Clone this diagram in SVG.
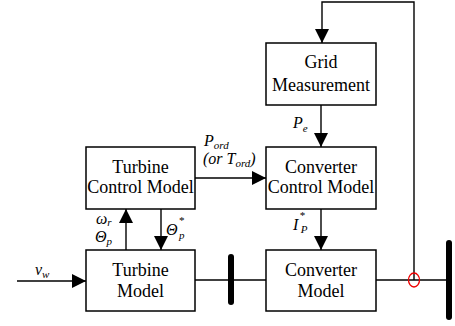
<svg xmlns="http://www.w3.org/2000/svg" width="455" height="326" viewBox="0 0 455 326">
<defs>
<marker id="arr" viewBox="0 0 14 14" refX="14" refY="7" markerWidth="14" markerHeight="14" markerUnits="userSpaceOnUse" orient="auto">
<path d="M0,0 L14,7 L0,14 Z" fill="#000"/>
</marker>
<style>
text{font-family:'Liberation Serif','DejaVu Serif',serif}
.box{fill:#fff;stroke:#000;stroke-width:1.5}
.t{font-size:18px;fill:#000;text-anchor:middle}
.l{font-style:italic;font-size:16px;fill:#000}
.s{font-size:11px}
.c{fill:none;stroke:#000;stroke-width:1.4}
.a{marker-end:url(#arr)}
.bus{stroke:#000;stroke-width:6;stroke-linecap:round}
</style>
</defs>
<g id="connectors">
<path class="c a" d="M414,280 L414,2 L322,2 L322,43"/>
<path class="c a" d="M321,105 L321,147"/>
<path class="c a" d="M321,209 L321,250"/>
<path class="c a" d="M195,178 L266,178"/>
<path class="c a" d="M126,250 L126,209"/>
<path class="c a" d="M161,209 L161,250"/>
<path class="c a" d="M17,281 L86,281"/>
<path class="c" d="M195,280 L266,280"/>
<path class="c" d="M376,280 L449,280"/>
</g>
<g id="bus1"><line class="bus" x1="231" y1="257" x2="231" y2="302"/></g>
<g id="bus2"><line class="bus" x1="449" y1="243" x2="449" y2="317"/></g>
<g id="sensor"><ellipse cx="414" cy="280" rx="5.5" ry="7" fill="none" stroke="#e00" stroke-width="1.3"/></g>
<g id="grid-measurement">
<rect class="box" x="266" y="43" width="110" height="62"/>
<text class="t" x="321" y="68" font-family="Liberation Serif, serif">Grid</text>
<text class="t" x="321" y="91" font-family="Liberation Serif, serif">Measurement</text>
</g>
<g id="turbine-control">
<rect class="box" x="86" y="147" width="109" height="62"/>
<text class="t" x="140.5" y="173">Turbine</text>
<text class="t" x="140.5" y="193">Control Model</text>
</g>
<g id="converter-control">
<rect class="box" x="266" y="147" width="110" height="62"/>
<text class="t" x="321" y="173">Converter</text>
<text class="t" x="321" y="193">Control Model</text>
</g>
<g id="turbine-model">
<rect class="box" x="86" y="250" width="109" height="61"/>
<text class="t" x="140.5" y="276">Turbine</text>
<text class="t" x="140.5" y="297">Model</text>
</g>
<g id="converter-model">
<rect class="box" x="266" y="250" width="110" height="61"/>
<text class="t" x="321" y="276">Converter</text>
<text class="t" x="321" y="297">Model</text>
</g>
<g id="labels">
<text class="l" x="204" y="146">P<tspan class="s" dy="3">ord</tspan></text>
<text class="l" x="203" y="164">(or T<tspan class="s" dy="3">ord</tspan><tspan dy="-3">)</tspan></text>
<text class="l" x="293" y="128">P<tspan class="s" dy="4">e</tspan></text>
<text class="l" x="293" y="230">I<tspan class="s" dx="1" dy="-11">*</tspan><tspan class="s" dx="-4" dy="14">P</tspan></text>
<text class="l" x="96" y="224">ω<tspan class="s" dy="2">r</tspan></text>
<text class="l" x="95" y="242">Θ<tspan class="s" dy="3">p</tspan></text>
<text class="l" x="166" y="235">Θ<tspan class="s" dx="1" dy="-11">*</tspan><tspan class="s" dx="-5" dy="15">p</tspan></text>
<text class="l" x="35" y="275">v<tspan class="s" dy="3">w</tspan></text>
</g>
</svg>
